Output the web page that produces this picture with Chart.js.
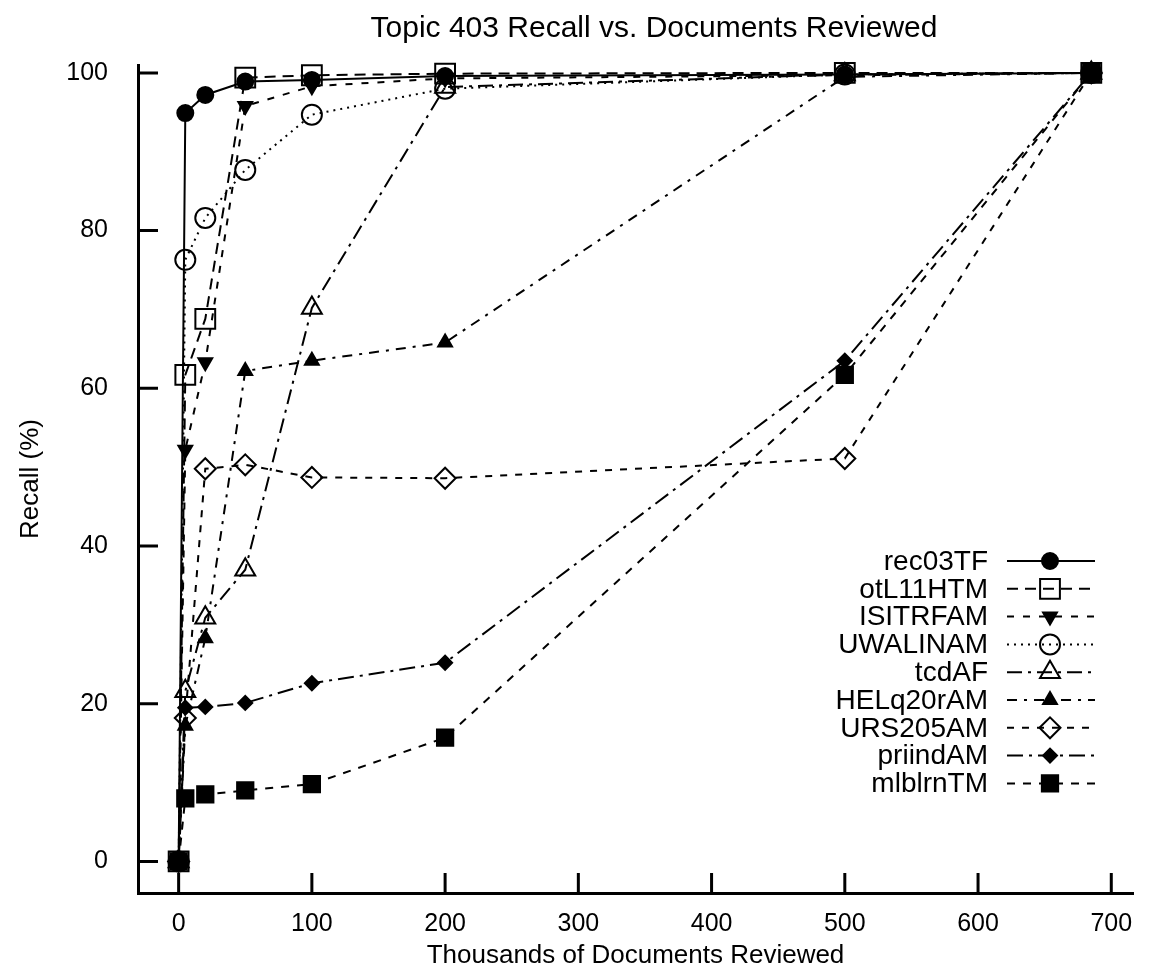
<!DOCTYPE html>
<html>
<head>
<meta charset="utf-8">
<title>Topic 403 Recall vs. Documents Reviewed</title>
<script src="https://cdn.jsdelivr.net/npm/chart.js@4.4.1/dist/chart.umd.min.js"></script>
<style>
  html, body { margin: 0; padding: 0; background: #fff; }
  #wrap { width: 1151px; height: 980px; }
</style>
</head>
<body>
<div id="wrap"><canvas id="myChart" width="1151" height="980"></canvas></div>
<script>
// thousands of documents reviewed
const xValues = [0, 5, 20, 50, 100, 200, 500, 685];

// recall (%) for each run
const rec03TF   = [0, 94.9, 97.2, 98.9, 99.1, 99.6, 99.8, 100];
const otL11HTM  = [0, 61.7, 68.8, 99.4, 99.7, 99.9, 100, 100];
const ISITRFAM  = [0, 52.2, 63.3, 95.8, 98.3, 99.3, 99.7, 100];
const UWALINAM  = [0, 76.3, 81.6, 87.7, 94.7, 98.0, 99.8, 100];
const tcdAF     = [0, 21.6, 30.9, 37.0, 70.2, 98.2, 99.8, 100];
const HELq20rAM = [0, 17.2, 28.3, 62.2, 63.5, 65.8, 99.5, 100];
const URS205AM  = [0, 18.2, 49.8, 50.3, 48.7, 48.6, 51.1, 100];
const priindAM  = [0, 19.5, 19.6, 20.1, 22.6, 25.2, 63.5, 100];
const mlblrnTM  = [0, 8.0, 8.5, 9.0, 9.8, 15.7, 61.7, 100];

const runNames = ['rec03TF', 'otL11HTM', 'ISITRFAM', 'UWALINAM', 'tcdAF', 'HELq20rAM', 'URS205AM', 'priindAM', 'mlblrnTM'];
const runValues = [rec03TF, otL11HTM, ISITRFAM, UWALINAM, tcdAF, HELq20rAM, URS205AM, priindAM, mlblrnTM];

const xTicks = [0, 100, 200, 300, 400, 500, 600, 700];
const yTicks = [0, 20, 40, 60, 80, 100];

// gnuplot-ish look for each run
const looks = [
  { style: 'circle',   filled: true,  r: 8,   rot: 0,   dash: [] },
  { style: 'rect',     filled: false, r: 14,  rot: 0,   dash: [11, 7] },
  { style: 'triangle', filled: true,  r: 8,   rot: 180, dash: [7, 9] },
  { style: 'circle',   filled: false, r: 10,  rot: 0,   dash: [2, 5] },
  { style: 'triangle', filled: false, r: 11.5,rot: 0,   dash: [15, 6, 3, 6] },
  { style: 'triangle', filled: true,  r: 8,   rot: 0,   dash: [10, 7, 3, 7] },
  { style: 'rectRot',  filled: false, r: 10.5,rot: 0,   dash: [7, 8] },
  { style: 'rectRot',  filled: true,  r: 7,   rot: 0,   dash: [16, 6, 3, 6] },
  { style: 'rect',     filled: true,  r: 11.5,rot: 0,   dash: [8, 8] },
];

const FONT = '"Liberation Sans", Arial, Helvetica, sans-serif';

const datasets = runNames.map((name, i) => ({
  label: name,
  data: xValues.map((x, j) => ({ x: x, y: runValues[i][j] })),
  showLine: true,
  borderColor: '#000',
  borderWidth: 2,
  borderDash: looks[i].dash,
  pointStyle: looks[i].style,
  pointRadius: looks[i].r,
  pointRotation: looks[i].rot,
  pointBorderWidth: 2,
  pointBorderColor: '#000',
  pointBackgroundColor: looks[i].filled ? '#000' : 'rgba(0,0,0,0)',
  order: runNames.length - i,
  clip: false,
}));

// ticks pointing into the plot, like gnuplot
const innerTicks = {
  id: 'innerTicks',
  beforeDatasetsDraw(chart) {
    const { ctx, chartArea, scales } = chart;
    ctx.save();
    ctx.strokeStyle = '#000';
    ctx.lineWidth = 3;
    ctx.beginPath();
    xTicks.forEach(v => {
      const px = scales.x.getPixelForValue(v);
      ctx.moveTo(px, chartArea.bottom);
      ctx.lineTo(px, chartArea.bottom - 20);
    });
    yTicks.forEach(v => {
      const py = scales.y.getPixelForValue(v);
      ctx.moveTo(chartArea.left, py);
      ctx.lineTo(chartArea.left + 20, py);
    });
    ctx.stroke();
    ctx.restore();
  }
};

// title + key on the right (text left of sample)
const keyAndTitle = {
  id: 'keyAndTitle',
  afterDatasetsDraw(chart) {
    const ctx = chart.ctx;
    ctx.save();
    ctx.fillStyle = '#000';
    ctx.font = '30px ' + FONT;
    ctx.textAlign = 'center';
    ctx.textBaseline = 'middle';
    ctx.fillText('Topic 403 Recall vs. Documents Reviewed', 654, 29);

    ctx.font = '28px ' + FONT;
    chart.data.datasets.forEach((ds, i) => {
      const y = 561 + i * 27.8;
      ctx.fillStyle = '#000';
      ctx.textAlign = 'right';
      ctx.fillText(ds.label, 988, y + 1);

      ctx.strokeStyle = '#000';
      ctx.lineWidth = ds.borderWidth;
      ctx.setLineDash(ds.borderDash);
      ctx.beginPath();
      ctx.moveTo(1007, y);
      ctx.lineTo(1095, y);
      ctx.stroke();
      ctx.setLineDash([]);

      ctx.fillStyle = ds.pointBackgroundColor;
      ctx.lineWidth = ds.pointBorderWidth;
      Chart.helpers.drawPoint(ctx, {
        pointStyle: ds.pointStyle,
        radius: ds.pointRadius,
        rotation: ds.pointRotation,
        borderWidth: ds.pointBorderWidth
      }, 1050, y);
    });
    ctx.restore();
  }
};

new Chart(document.getElementById('myChart'), {
  type: 'scatter',
  data: { datasets: datasets },
  plugins: [innerTicks, keyAndTitle],
  options: {
    responsive: false,
    animation: false,
    layout: { padding: { top: 65, right: 18, left: 0, bottom: 0 } },
    plugins: {
      legend: { display: false },
      tooltip: { enabled: false },
      title: { display: false },
    },
    scales: {
      x: {
        type: 'linear',
        position: 'bottom',
        min: -30.5,
        max: 716.3,
        afterFit: s => { s.height = 87; },
        afterBuildTicks: s => { s.ticks = xTicks.map(v => ({ value: v })); },
        grid: { display: true, drawOnChartArea: false, drawTicks: false },
        border: { display: true, color: '#000', width: 3 },
        ticks: {
          color: '#000',
          font: { family: FONT, size: 25 },
          padding: 16,
          maxRotation: 0,
          callback: v => String(v),
        },
        title: {
          display: true,
          text: 'Thousands of Documents Reviewed',
          color: '#000',
          font: { family: FONT, size: 26 },
          padding: { top: 0, bottom: 9 },
        },
      },
      y: {
        type: 'linear',
        position: 'left',
        min: -4,
        max: 101,
        afterFit: s => { s.width = 138; },
        afterBuildTicks: s => { s.ticks = yTicks.map(v => ({ value: v })); },
        grid: { display: true, drawOnChartArea: false, drawTicks: false },
        border: { display: true, color: '#000', width: 3 },
        ticks: {
          color: '#000',
          font: { family: FONT, size: 25 },
          padding: 30,
          callback: v => String(v),
        },
        title: {
          display: true,
          text: 'Recall (%)',
          color: '#000',
          font: { family: FONT, size: 26 },
          padding: { top: 15, bottom: 0 },
        },
      },
    },
  },
});
</script>
</body>
</html>
